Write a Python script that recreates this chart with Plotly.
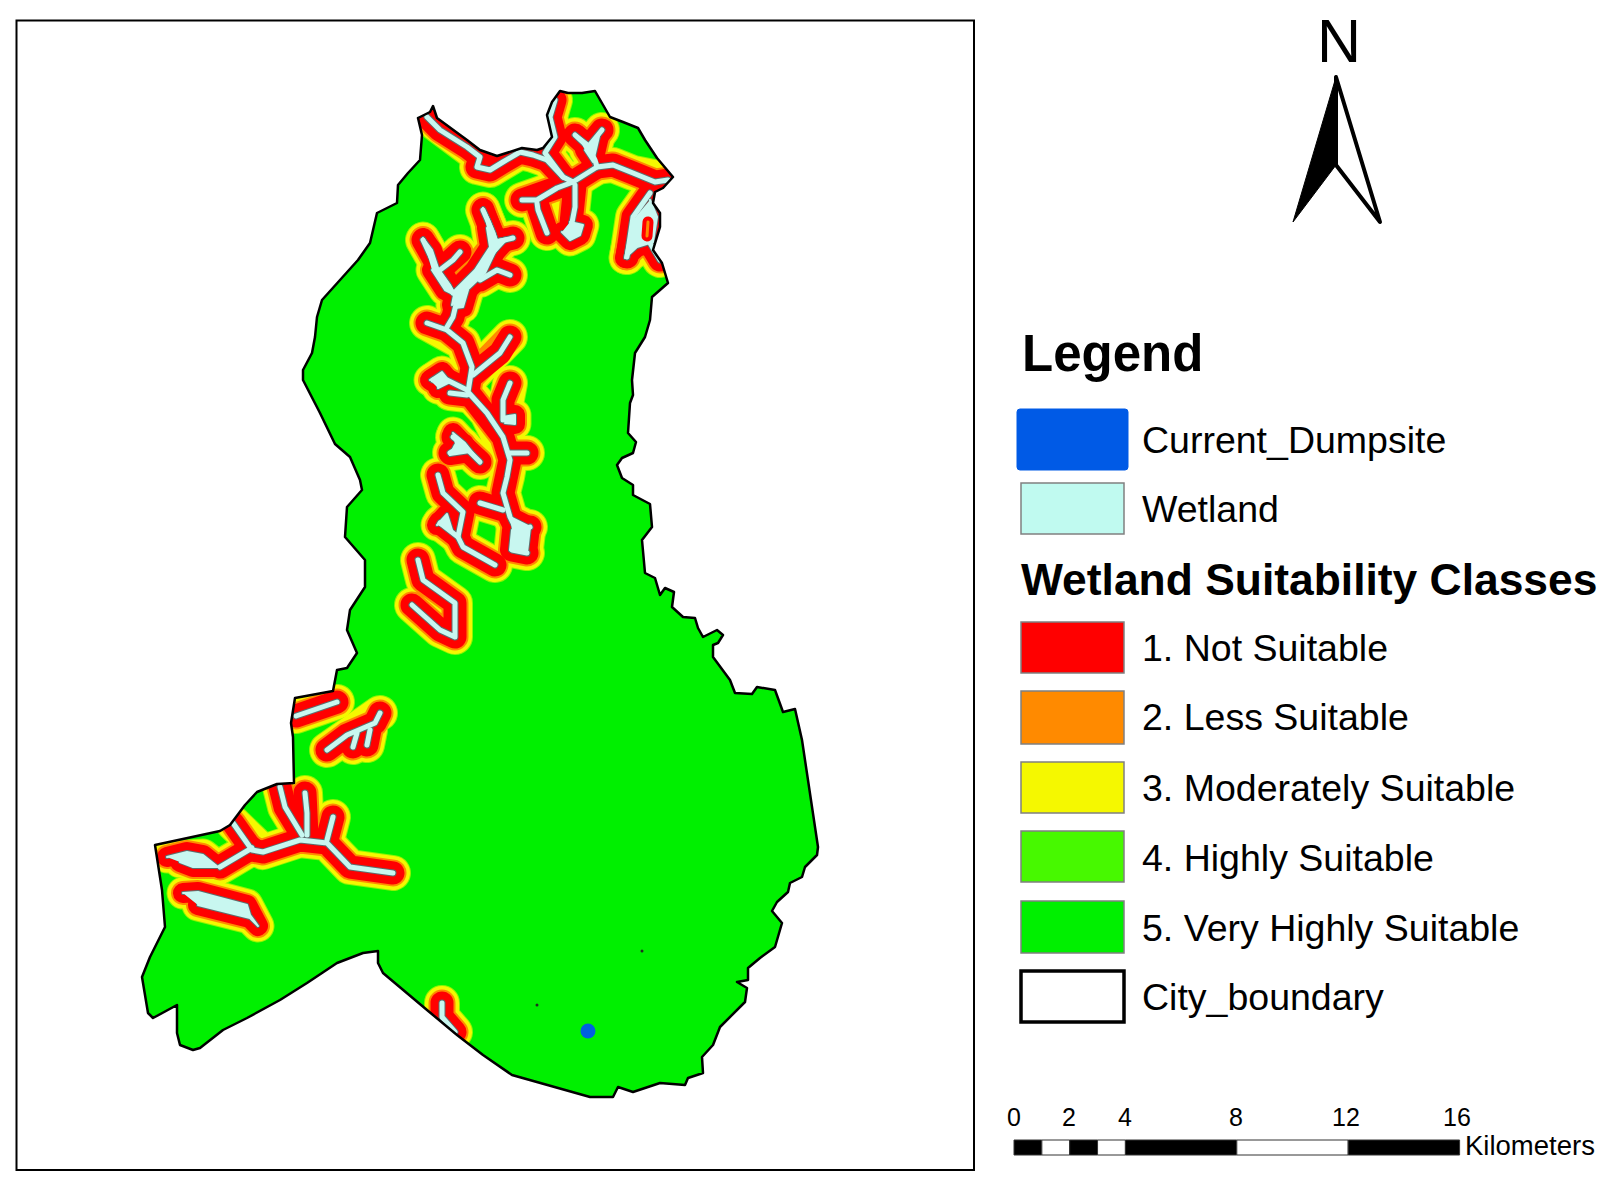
# -*- coding: utf-8 -*-
# Carte d'aptitude des zones humides : tout est place en pixels de l'image
import plotly.graph_objects as go

W, H = 1619, 1190

# limite de la ville
boundary = [(418,118),(430,112),(433,106),(437,118),(467,140),(480,150),(497,156),(522,148),(537,150),(543,148),
            (552,137),(547,115),(552,102),(560,91),(568,93),(582,93),(595,91),(602,103),(610,117),(623,122),
            (638,128),(645,140),(657,158),(673,177),(663,188),(655,192),(653,203),(660,213),(660,227),(653,250),
            (662,263),(668,283),(652,297),(650,320),(645,337),(635,353),(632,380),(633,395),(630,403),(628,433),
            (636,442),(633,453),(622,458),(617,465),(622,478),(633,485),(633,495),(650,504),(652,527),(642,540),
            (643,553),(645,573),(655,578),(660,595),(665,588),(674,592),(672,607),(683,617),(695,618),(698,628),
            (703,637),(717,630),(723,635),(718,643),(713,645),(713,657),(730,680),(735,693),(752,694),(757,687),
            (775,690),(783,712),(795,709),(802,740),(818,847),(817,855),(805,867),(802,877),(790,883),(788,892),
            (777,902),(772,911),(782,923),(775,947),(760,958),(748,968),(748,980),(737,982),(747,988),(745,1002),
            (720,1027),(713,1045),(702,1057),(703,1073),(688,1078),(685,1085),(660,1083),(633,1092),(618,1087),
            (613,1097),(590,1097),(557,1088),(512,1075),(483,1055),(457,1035),(427,1010),(383,973),(378,963),
            (378,951),(363,953),(337,963),(307,983),(280,1000),(247,1018),(223,1030),(200,1048),(193,1050),
            (180,1045),(177,1033),(177,1005),(153,1018),(148,1013),(142,977),(150,957),(165,927),(162,890),
            (155,845),(220,831),(230,825),(245,805),(257,792),(277,784),(294,783),(293,737),(291,723),(295,698),
            (333,691),(337,670),(347,668),(357,653),(347,630),(350,610),(365,587),(365,560),(345,537),(347,507),
            (362,490),(360,480),(350,457),(335,444),(320,413),(303,380),(303,370),(312,353),(315,337),(317,317),
            (322,300),(340,280),(358,260),(370,243),(373,230),(377,213),(397,203),(398,185),(408,173),(420,160),
            (422,135)]

# cours d'eau (zones humides etroites)
streams_north = [[(427,117),(440,130),(467,147),(480,157),(477,167),(490,170),(503,162),(520,152),(533,155),(547,160),(563,177),(573,182)],
                 [(555,100),(550,117),(555,137),(545,153),(563,177)],
                 [(575,135),(588,147),(602,130)],
                 [(588,147),(595,160),(597,167),(573,182)],
                 [(597,167),(613,165),(633,173),(655,182),(668,180)],
                 [(573,182),(557,188),(537,200),(522,200)],
                 [(537,203),(538,210),(547,233)],
                 [(575,185),(575,207),(570,233)],
                 [(650,193),(633,217),(627,257)],
                 [(650,243),(660,260)]]
streams_centre = [[(423,240),(437,270),(453,293)],
                  [(483,210),(493,233),(497,247),(480,270),(463,287),(457,300),(453,317),(447,327)],
                  [(497,242),(513,238)],
                  [(480,280),(497,270),(510,275)],
                  [(460,252),(453,260),(440,270)],
                  [(427,323),(447,330),(463,343),(472,367),(468,392),(487,413),(503,437),(510,460),(507,477),(503,493),(510,517),(518,533),(512,550),(527,553)],
                  [(473,375),(500,353),(510,337)],
                  [(433,380),(447,380),(467,390)],
                  [(450,393),(467,395)],
                  [(503,420),(503,400),(510,383)],
                  [(510,453),(527,453)],
                  [(453,437),(463,445),(480,462)],
                  [(450,453),(463,445)]]
streams_middle = [[(438,475),(443,493),(463,512),(458,537),(440,523)],
                  [(458,537),(463,547),(495,565)],
                  [(480,503),(503,510)],
                  [(518,533),(530,527)],
                  [(418,560),(423,580),(455,603),(455,637),(440,630),(412,605)]]
streams_west = [[(296,716),(337,702)],
                [(327,750),(347,735),(375,723),(380,713)],
                [(357,733),(353,747)],
                [(370,730),(367,745)],
                [(280,787),(285,807),(302,835)],
                [(305,793),(307,813),(307,835)],
                [(333,817),(327,840)],
                [(233,823),(252,850),(263,852),(300,840),(327,843),(350,867),(393,873)],
                [(252,848),(220,867)],
                [(442,1003),(442,1017),(455,1032)]]

# parties larges des zones humides
lakes = [[(650,200),(657,217),(653,242),(637,247),(625,258),(633,220)],
         [(577,135),(590,145),(600,132),(593,162),(585,150)],
         [(483,208),(490,222),(497,240),(508,238),(495,252),(485,273),(465,292),(452,305),(455,290),(475,270),(490,247),(487,228)],
         [(423,238),(432,250),(438,268),(450,285),(455,295),(445,290),(432,270)],
         [(453,293),(468,290),(463,307),(455,308)],
         [(453,433),(465,443),(480,462),(470,452),(450,455),(455,445)],
         [(510,517),(530,527),(527,553),(510,550),(512,530)],
         [(570,222),(583,225),(580,235),(570,240),(562,232)],
         [(430,380),(442,372),(450,382),(438,388)],
         [(437,525),(447,514),(452,530)],
         [(502,417),(515,415),(515,424),(505,423)],
         [(167,857),(187,852),(203,855),(218,867),(193,867),(180,862)],
         [(183,893),(198,892),(247,905),(250,915),(258,926),(250,918),(198,905)]]
island = [(648,222),(647,236)]

# site actuel et petits points isoles
dumpsite = (588,1031)
specks = [(537,1005),(642,951)]

# legende
top_entries = ["Current_Dumpsite", "Wetland"]
class_names = ["1. Not Suitable", "2. Less Suitable", "3. Moderately Suitable",
               "4. Highly Suitable", "5. Very Highly Suitable"]
class_colors = ["#FF0000", "#FF8A00", "#F5F800", "#47F900", "#00F000"]
class_tops = [622, 691, 762, 831, 901]
class_bottoms = [673, 744, 813, 882, 953]
class_text_y = [647.5, 716.5, 787.5, 857.5, 927.5]

# echelle
scale_edges = [0, 1, 2, 3, 4, 8, 12, 16]
scale_labels = [0, 2, 4, 8, 12, 16]
KM_PX = 27.85
KM_X0 = 1014

# couleur, largeur : du plus large au plus etroit
bands = [("#8CF500", 36), ("#F5F800", 34), ("#FF8A00", 27), ("#FF0000", 23), ("#5E6E6E", 7), ("#C8F7F0", 5)]


def chemin(paths):
    # met plusieurs traces dans une seule, separees par None
    xs, ys = [], []
    for p in paths:
        xs += [a for a, b in p] + [None]
        ys += [b for a, b in p] + [None]
    return xs, ys


fig = go.Figure()

bx = [a for a, b in boundary]
by = [b for a, b in boundary]
fig.add_trace(go.Scatter(x=bx, y=by, mode="lines", fill="toself", fillcolor="#00F000", line=dict(width=0)))

all_streams = streams_north + streams_centre + streams_middle + streams_west
sx, sy = chemin(all_streams)
lx, ly = chemin(lakes)
for col, w in bands:
    fig.add_trace(go.Scatter(x=sx, y=sy, mode="lines", line=dict(color=col, width=w)))
    fig.add_trace(go.Scatter(x=lx, y=ly, mode="lines", fill="toself", fillcolor=col,
                             line=dict(color=col, width=w - 3)))

ix, iy = chemin([island])
fig.add_trace(go.Scatter(x=ix, y=iy, mode="lines", line=dict(color="#FF0000", width=11)))
fig.add_trace(go.Scatter(x=ix, y=iy, mode="lines", line=dict(color="#FF8A00", width=3)))

# masque blanc autour de la ville pour couper les bandes
L, T, R, B = 17, 21, 974, 1170
fig.add_trace(go.Scatter(x=[L, L, R, R, L] + bx + [bx[0], L], y=[T, B, B, T, T] + by + [by[0], T],
                         mode="lines", fill="toself", fillcolor="white", line=dict(width=0)))
fig.add_trace(go.Scatter(x=bx + [bx[0]], y=by + [by[0]], mode="lines", line=dict(color="black", width=2.5)))

fig.add_trace(go.Scatter(x=[dumpsite[0]], y=[dumpsite[1]], mode="markers",
                         marker=dict(color="#0060E0", size=15, line=dict(width=0))))
fig.add_trace(go.Scatter(x=[a for a, b in specks], y=[b for a, b in specks], mode="markers",
                         marker=dict(color="#203020", size=3, line=dict(width=0))))

# fleche du nord
fig.add_trace(go.Scatter(x=[1336, 1293, 1336, 1336], y=[77, 222, 165, 77], mode="lines", fill="toself",
                         fillcolor="black", line=dict(color="black", width=1)))
fig.add_trace(go.Scatter(x=[1336, 1380, 1336, 1336], y=[77, 222, 165, 77], mode="lines", fill="toself",
                         fillcolor="white", line=dict(color="black", width=4)))

shapes = [dict(type="rect", x0=L - 0.5, x1=R, y0=T - 0.5, y1=B, line=dict(color="black", width=2))]


def case(y0, y1, col, bord="#808080", lw=1.5, x0=1021, x1=1124):
    shapes.append(dict(type="rect", x0=x0, x1=x1, y0=y0, y1=y1, fillcolor=col, line=dict(color=bord, width=lw)))


# case bleue a coins arrondis
shapes.append(dict(type="path", fillcolor="#005AE6", line=dict(color="#005AE6", width=1),
                   path="M1020,409 L1125,409 Q1128,409 1128,412 L1128,467 Q1128,470 1125,470 "
                        "L1020,470 Q1017,470 1017,467 L1017,412 Q1017,409 1020,409 Z"))
case(483, 534, "#C0FAF0")
for col, t, b in zip(class_colors, class_tops, class_bottoms):
    case(t, b, col)
case(971, 1022, "white", bord="black", lw=3.5)

# barres de l'echelle, noir et blanc en alternance
for i in range(len(scale_edges) - 1):
    fig_col = "black" if i % 2 == 0 else "white"
    shapes.append(dict(type="rect", x0=KM_X0 + scale_edges[i] * KM_PX, x1=KM_X0 + scale_edges[i + 1] * KM_PX,
                       y0=1140, y1=1155, fillcolor=fig_col, line=dict(color="#333333", width=1)))

FONT = "Liberation Sans, Arial, sans-serif"
annots = []


def texte(x, y, s, size, bold=False, anchor="left", dx=0):
    if bold:
        s = "<b>" + s + "</b>"
    annots.append(dict(x=x, y=y, text=s, showarrow=False, xanchor=anchor, yanchor="middle",
                       xshift=dx, yshift=0, borderpad=0,
                       font=dict(family=FONT, size=size, color="black")))


texte(1339, 41, "N", 61, anchor="center")
texte(1021, 353, "Legend", 51, bold=True)
texte(1141, 440, top_entries[0], 37.5)
texte(1141, 509, top_entries[1], 37.5)
texte(1020, 579, "Wetland Suitability Classes", 44.4, bold=True)
for nom, y in zip(class_names, class_text_y):
    texte(1141, y, nom, 37.5)
texte(1141, 996.5, "City_boundary", 37.5)
for km in scale_labels:
    texte(KM_X0 + km * KM_PX, 1117, str(km), 25, anchor="center", dx=-km * 0.15)
texte(1464, 1145, "Kilometers", 27.5)

fig.update_layout(width=W, height=H, margin=dict(l=0, r=0, t=0, b=0), showlegend=False,
                  paper_bgcolor="white", plot_bgcolor="white", shapes=shapes, annotations=annots,
                  xaxis=dict(range=[0, W], visible=False), yaxis=dict(range=[H, 0], visible=False))

# joints ronds pour les bandes, comme sur la carte d'origine
css = "document.body.style.margin='0';var s=document.createElement('style');" \
      "s.textContent='.js-line{stroke-linejoin:round;stroke-linecap:round}';document.head.appendChild(s);"
fig.write_html("out.html", post_script=css, config=dict(displayModeBar=False))
